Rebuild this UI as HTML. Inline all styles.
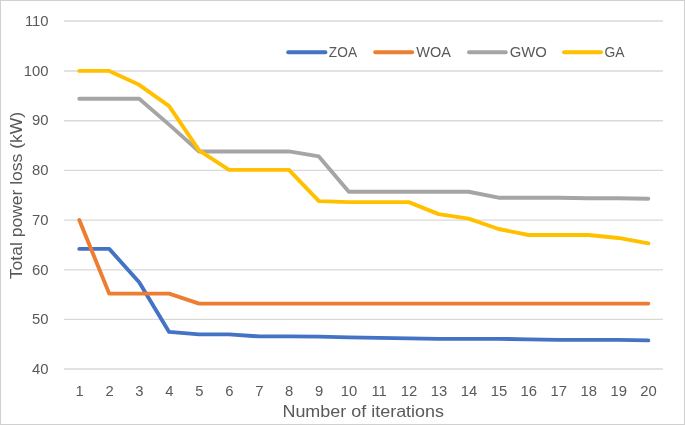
<!DOCTYPE html>
<html><head><meta charset="utf-8"><style>
html,body{margin:0;padding:0;background:#fff;}
body{width:685px;height:425px;overflow:hidden;}
.wrap{position:relative;width:685px;height:425px;box-sizing:border-box;border:1px solid #d0d0d0;}
svg{position:absolute;left:-1px;top:-1px;will-change:transform;}
.t{font-family:"Liberation Sans",sans-serif;font-size:15px;fill:#595959;}
.tk{font-family:"Liberation Sans",sans-serif;font-size:15.3px;fill:#595959;}
.ti{font-family:"Liberation Sans",sans-serif;font-size:17px;fill:#595959;}
</style></head><body><div class="wrap">
<svg width="685" height="425" viewBox="0 0 685 425">
<line x1="64" x2="663" y1="369.00" y2="369.00" stroke="#d9d9d9" stroke-width="1.3"/>
<line x1="64" x2="663" y1="319.29" y2="319.29" stroke="#d9d9d9" stroke-width="1.3"/>
<line x1="64" x2="663" y1="269.87" y2="269.87" stroke="#d9d9d9" stroke-width="1.3"/>
<line x1="64" x2="663" y1="220.16" y2="220.16" stroke="#d9d9d9" stroke-width="1.3"/>
<line x1="64" x2="663" y1="170.44" y2="170.44" stroke="#d9d9d9" stroke-width="1.3"/>
<line x1="64" x2="663" y1="120.73" y2="120.73" stroke="#d9d9d9" stroke-width="1.3"/>
<line x1="64" x2="663" y1="71.01" y2="71.01" stroke="#d9d9d9" stroke-width="1.3"/>
<line x1="64" x2="663" y1="21.00" y2="21.00" stroke="#d9d9d9" stroke-width="1.3"/>
<text transform="translate(48.6,374.00) scale(0.97,1)" text-anchor="end" class="tk">40</text>
<text transform="translate(48.6,324.29) scale(0.97,1)" text-anchor="end" class="tk">50</text>
<text transform="translate(48.6,274.57) scale(0.97,1)" text-anchor="end" class="tk">60</text>
<text transform="translate(48.6,224.86) scale(0.97,1)" text-anchor="end" class="tk">70</text>
<text transform="translate(48.6,175.14) scale(0.97,1)" text-anchor="end" class="tk">80</text>
<text transform="translate(48.6,125.43) scale(0.97,1)" text-anchor="end" class="tk">90</text>
<text transform="translate(48.6,75.71) scale(0.97,1)" text-anchor="end" class="tk">100</text>
<text transform="translate(48.6,26.00) scale(0.97,1)" text-anchor="end" class="tk">110</text>
<text transform="translate(79.57,395.6) scale(0.97,1)" text-anchor="middle" class="tk">1</text>
<text transform="translate(109.52,395.6) scale(0.97,1)" text-anchor="middle" class="tk">2</text>
<text transform="translate(139.48,395.6) scale(0.97,1)" text-anchor="middle" class="tk">3</text>
<text transform="translate(169.43,395.6) scale(0.97,1)" text-anchor="middle" class="tk">4</text>
<text transform="translate(199.38,395.6) scale(0.97,1)" text-anchor="middle" class="tk">5</text>
<text transform="translate(229.33,395.6) scale(0.97,1)" text-anchor="middle" class="tk">6</text>
<text transform="translate(259.27,395.6) scale(0.97,1)" text-anchor="middle" class="tk">7</text>
<text transform="translate(289.23,395.6) scale(0.97,1)" text-anchor="middle" class="tk">8</text>
<text transform="translate(319.18,395.6) scale(0.97,1)" text-anchor="middle" class="tk">9</text>
<text transform="translate(349.12,395.6) scale(0.97,1)" text-anchor="middle" class="tk">10</text>
<text transform="translate(379.07,395.6) scale(0.97,1)" text-anchor="middle" class="tk">11</text>
<text transform="translate(409.03,395.6) scale(0.97,1)" text-anchor="middle" class="tk">12</text>
<text transform="translate(438.98,395.6) scale(0.97,1)" text-anchor="middle" class="tk">13</text>
<text transform="translate(468.93,395.6) scale(0.97,1)" text-anchor="middle" class="tk">14</text>
<text transform="translate(498.88,395.6) scale(0.97,1)" text-anchor="middle" class="tk">15</text>
<text transform="translate(528.82,395.6) scale(0.97,1)" text-anchor="middle" class="tk">16</text>
<text transform="translate(558.77,395.6) scale(0.97,1)" text-anchor="middle" class="tk">17</text>
<text transform="translate(588.72,395.6) scale(0.97,1)" text-anchor="middle" class="tk">18</text>
<text transform="translate(618.67,395.6) scale(0.97,1)" text-anchor="middle" class="tk">19</text>
<text transform="translate(648.62,395.6) scale(0.97,1)" text-anchor="middle" class="tk">20</text>
<polyline points="79.27,248.89 109.22,248.89 139.18,282.20 169.12,331.91 199.08,334.40 229.03,334.40 258.97,336.39 288.93,336.39 318.88,336.64 348.82,337.38 378.77,337.88 408.73,338.38 438.68,338.87 468.62,338.87 498.57,338.87 528.52,339.37 558.47,339.87 588.42,339.87 618.37,339.87 648.32,340.37" fill="none" stroke="#4472C4" stroke-width="3.9" stroke-linejoin="round" stroke-linecap="round"/>
<polyline points="79.27,220.06 109.22,293.63 139.18,293.63 169.12,293.63 199.08,303.58 229.03,303.58 258.97,303.58 288.93,303.58 318.88,303.58 348.82,303.58 378.77,303.58 408.73,303.58 438.68,303.58 468.62,303.58 498.57,303.58 528.52,303.58 558.47,303.58 588.42,303.58 618.37,303.58 648.32,303.58" fill="none" stroke="#ED7D31" stroke-width="3.9" stroke-linejoin="round" stroke-linecap="round"/>
<polyline points="79.27,98.75 109.22,98.75 139.18,98.75 169.12,124.61 199.08,151.45 229.03,151.45 258.97,151.45 288.93,151.45 318.88,156.42 348.82,191.72 378.77,191.72 408.73,191.72 438.68,191.72 468.62,191.72 498.57,197.69 528.52,197.69 558.47,197.69 588.42,198.18 618.37,198.18 648.32,198.68" fill="none" stroke="#A5A5A5" stroke-width="3.9" stroke-linejoin="round" stroke-linecap="round"/>
<polyline points="79.27,70.91 109.22,70.91 139.18,84.83 169.12,106.21 199.08,150.46 229.03,169.85 258.97,169.85 288.93,169.85 318.88,201.17 348.82,202.16 378.77,202.16 408.73,202.16 438.68,214.09 468.62,218.57 498.57,229.01 528.52,234.97 558.47,234.97 588.42,234.97 618.37,237.95 648.32,243.42" fill="none" stroke="#FFC000" stroke-width="3.9" stroke-linejoin="round" stroke-linecap="round"/>
<line x1="288.2" x2="325.4" y1="52.2" y2="52.2" stroke="#4472C4" stroke-width="3.9" stroke-linecap="round"/>
<text x="328.87" y="56.8" class="t" textLength="28.16" lengthAdjust="spacingAndGlyphs">ZOA</text>
<line x1="375.2" x2="412.2" y1="52.2" y2="52.2" stroke="#ED7D31" stroke-width="3.9" stroke-linecap="round"/>
<text x="416.34" y="56.8" class="t" textLength="34.69" lengthAdjust="spacingAndGlyphs">WOA</text>
<line x1="469" x2="505.8" y1="52.2" y2="52.2" stroke="#A5A5A5" stroke-width="3.9" stroke-linecap="round"/>
<text x="509.65" y="56.8" class="t" textLength="37.16" lengthAdjust="spacingAndGlyphs">GWO</text>
<line x1="564" x2="601" y1="52.2" y2="52.2" stroke="#FFC000" stroke-width="3.9" stroke-linecap="round"/>
<text x="604.50" y="56.8" class="t" textLength="20.02" lengthAdjust="spacingAndGlyphs">GA</text>
<text x="282.43" y="416.8" class="ti" textLength="161.62" lengthAdjust="spacingAndGlyphs">Number of iterations</text>
<text transform="translate(22.0,279.19) rotate(-90)" class="ti" textLength="167.36" lengthAdjust="spacingAndGlyphs">Total power loss (kW)</text>
</svg></div></body></html>
